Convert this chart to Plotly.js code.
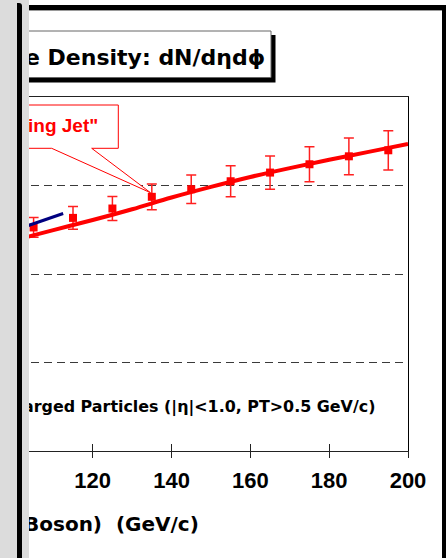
<!DOCTYPE html>
<html>
<head>
<meta charset="utf-8">
<script src="https://cdn.plot.ly/plotly-3.0.1.min.js"></script>
<style>
  html, body { margin: 0; padding: 0; background: #ffffff; }
  #wrap { position: relative; width: 446px; height: 558px; overflow: hidden; }
  #chart { position: absolute; left: 0; top: 0; width: 446px; height: 558px; }
  #panel { position: absolute; left: 0; top: 0; width: 29px; height: 558px; background: #dcdcdc; z-index: 5; }
  #bar { position: absolute; left: 17px; top: 3px; width: 5px; height: 555px; background: #000; border-top-right-radius: 3px; }
</style>
</head>
<body>
<div id="wrap">
  <div id="chart"></div>
  <div id="panel"><div id="bar"></div></div>
</div>
<script>
// ---- data ----
const pointX   = [105, 115, 125, 135, 145, 155, 165, 175, 185, 195];
const pointY   = [1.263, 1.317, 1.370, 1.436, 1.479, 1.524, 1.573, 1.620, 1.665, 1.699];
const pointErr = [0.056, 0.064, 0.068, 0.073, 0.081, 0.087, 0.094, 0.099, 0.104, 0.111];

const modelX = [100, 110, 120, 130, 140, 150, 160, 170, 180, 190, 200];
const modelY = [1.190, 1.248, 1.305, 1.366, 1.432, 1.492, 1.548, 1.598, 1.645, 1.690, 1.735];

const blueX = [100, 112.5];
const blueY = [1.246, 1.342];

const xTicks = [100, 120, 140, 160, 180, 200];
const titleText = "e Density: dN/dηdϕ";
const calloutText = "ing Jet\"";
const noteText = "arged Particles (|η|<1.0, PT>0.5 GeV/c)";
const xTitleText = "Boson)  (GeV/c)";

// ---- layout geometry ----
const W = 446, H = 558, ML = 5, MR = 38, MT = 97, MB = 107;
const PW = W - ML - MR, PH = H - MT - MB;
const px = v => (v - ML) / PW;
const py = v => (H - MB - v) / PH;

const traces = [
  {
    x: pointX, y: pointY, type: 'scatter', mode: 'markers',
    marker: { symbol: 'square', size: 8, color: '#ff0000' },
    error_y: { type: 'data', array: pointErr, visible: true, color: '#ff2020', thickness: 1.5, width: 5 },
    xaxis: 'x', yaxis: 'y', showlegend: false, hoverinfo: 'skip'
  },
  {
    x: blueX, y: blueY, type: 'scatter', mode: 'lines',
    line: { color: '#000080', width: 3 },
    xaxis: 'x', yaxis: 'y', showlegend: false, hoverinfo: 'skip'
  },
  {
    x: modelX, y: modelY, type: 'scatter', mode: 'lines',
    line: { color: '#ff0000', width: 4, shape: 'spline' },
    xaxis: 'x2', yaxis: 'y', showlegend: false, hoverinfo: 'skip'
  }
];

const xr = [120 - (92.7 - ML) / 3.941, 200];

const boldArial = { family: 'Liberation Sans, Arial, sans-serif', weight: 700 };
const boldWide = { family: 'DejaVu Sans, Verdana, sans-serif', weight: 700 };

const layout = {
  width: W, height: H,
  margin: { l: ML, r: MR, t: MT, b: MB, pad: 0 },
  paper_bgcolor: '#ffffff', plot_bgcolor: '#ffffff',
  showlegend: false,
  xaxis: {
    range: xr, tickvals: xTicks, ticktext: xTicks.map(String),
    ticks: 'outside', ticklen: 6, tickwidth: 1, tickcolor: '#222',
    ticklabelstandoff: 4,
    showline: true, linecolor: '#222', linewidth: 1, mirror: true,
    showgrid: false, zeroline: false,
    tickfont: Object.assign({ size: 22, color: '#000' }, boldArial),
    fixedrange: true
  },
  xaxis2: {
    range: xr, overlaying: 'x', anchor: 'y', side: 'bottom',
    tickvals: xTicks, ticks: 'inside', ticklen: 7, tickwidth: 1, tickcolor: '#222',
    showticklabels: false, showline: false, showgrid: false, zeroline: false,
    fixedrange: true
  },
  yaxis: {
    range: [0, 2], dtick: 0.5, tick0: 0,
    showgrid: true, gridcolor: '#3a3a3a', gridwidth: 1, griddash: '8px,5px',
    showticklabels: false, ticks: '',
    showline: true, linecolor: '#000', linewidth: 1, mirror: true,
    zeroline: false, fixedrange: true
  },
  shapes: [
    // outer slide frame
    { type: 'rect', xref: 'paper', yref: 'paper', x0: px(20), x1: px(446), y0: py(5), y1: py(10),
      fillcolor: '#000', line: { width: 0 }, layer: 'above' },
    { type: 'rect', xref: 'paper', yref: 'paper', x0: px(20), x1: px(442), y0: py(10), y1: py(11),
      fillcolor: '#9a9a9a', line: { width: 0 }, layer: 'above' },
    { type: 'rect', xref: 'paper', yref: 'paper', x0: px(442), x1: px(446), y0: py(5), y1: py(558),
      fillcolor: '#000', line: { width: 0 }, layer: 'above' },
    // title box with shadow
    { type: 'rect', xref: 'paper', yref: 'paper', x0: px(20), x1: px(275.5), y0: py(35), y1: py(82.5),
      fillcolor: '#000', line: { width: 0 }, layer: 'above' },
    { type: 'rect', xref: 'paper', yref: 'paper', x0: px(20), x1: px(271), y0: py(31), y1: py(77.5),
      fillcolor: '#fff', line: { color: '#666', width: 1 }, layer: 'above' },
    // red callout
    { type: 'path', xref: 'paper', yref: 'paper', layer: 'above',
      path: 'M ' + px(20) + ',' + py(105) + ' L ' + px(118.3) + ',' + py(105) +
            ' L ' + px(118.3) + ',' + py(148.3) + ' L ' + px(91.7) + ',' + py(148.3) +
            ' L ' + px(150.5) + ',' + py(192.7) + ' L ' + px(51.7) + ',' + py(148.3) +
            ' L ' + px(20) + ',' + py(148.3) + ' Z',
      fillcolor: '#fff', line: { color: '#ff0000', width: 1 } }
  ],
  annotations: [
    { text: titleText, xref: 'paper', yref: 'paper', x: px(267), y: py(57.5),
      xanchor: 'right', yanchor: 'middle', showarrow: false,
      font: Object.assign({ size: 22, color: '#000' }, boldWide) },
    { text: calloutText, xref: 'paper', yref: 'paper', x: px(100), y: py(126),
      xanchor: 'right', yanchor: 'middle', showarrow: false,
      font: Object.assign({ size: 19, color: '#ff0000' }, boldArial) },
    { text: noteText, xref: 'paper', yref: 'paper', x: px(377), y: py(406.5),
      xanchor: 'right', yanchor: 'middle', showarrow: false,
      font: Object.assign({ size: 15.9, color: '#000' }, boldWide) },
    { text: xTitleText, xref: 'paper', yref: 'paper', x: px(201), y: py(523.8),
      xanchor: 'right', yanchor: 'middle', showarrow: false,
      font: Object.assign({ size: 20, color: '#000' }, boldWide) }
  ]
};

Plotly.newPlot('chart', traces, layout, { staticPlot: true, displayModeBar: false });
</script>
</body>
</html>
